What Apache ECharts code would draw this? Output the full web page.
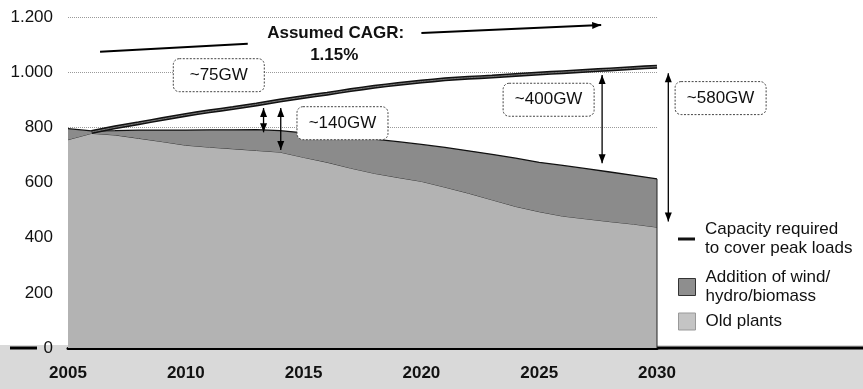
<!DOCTYPE html>
<html><head><meta charset="utf-8">
<script src="https://cdn.jsdelivr.net/npm/echarts@6/dist/echarts.min.js"></script>
<style>html,body{margin:0;padding:0;background:#fff}#c{width:863px;height:389px}</style>
</head><body><div id="c"></div>
<script>
const FONT = '"Liberation Sans", Arial, sans-serif';
const years = ['2005','2006','2007','2008','2009','2010','2011','2012','2013','2014','2015','2016','2017','2018','2019','2020','2021','2022','2023','2024','2025','2026','2027','2028','2029','2030'];
const oldPlants = [755,778,772,760,748,735,728,722,716,710,691,673,652,633,618,604,583,561,537,513,494,478,468,458,449,438];
const additions = [40,9,16,30,42,55,63,69,76,78,89,99,113,124,130,134,144,154,165,175,179,184,182,180,177,175];
const peakLoad = [null,783,800,815,830,845,858,870,883,897,910,922,935,947,957,966,974,980,984,990,995,1000,1005,1010,1015,1020];
const yTickLabels = ['0','200','400','600','800','1.000','1.200'];
const seriesNames = ['Capacity required\nto cover peak loads','Addition of wind/\nhydro/biomass','Old plants'];
// annotations in data coordinates: [year, top value, bottom value]
const gapArrows = [[2013.3,870,782],[2014.03,870,718],[2027.67,990,670],[2030.48,996,459]];
const gapBoxes = [['~75GW',2011.4,989],['~140GW',2016.65,815],['~400GW',2025.4,900],['~580GW',2032.7,906]];
const cagrLine = [[2006.36,1074],[2012.63,1103]];
const cagrArrow = [[2020.0,1142],[2027.63,1171]];
const cagrTexts = [['Assumed CAGR:',2016.36,1142],['1.15%',2016.3,1062]];

const legendBase = {orient:'vertical',left:673,itemWidth:17,itemHeight:17,
  textStyle:{fontFamily:FONT,fontSize:17,lineHeight:19,color:'#111',padding:[0,0,0,5]}};
const chart = echarts.init(document.getElementById('c'));
chart.setOption({
  animation:false,
  backgroundColor:'transparent',
  grid:{left:68,right:206,top:17,bottom:41},
  xAxis:{type:'category',data:years,boundaryGap:false,
    axisLine:{show:true,onZero:false,lineStyle:{color:'#000',width:3}},
    axisTick:{show:false},splitLine:{show:false},
    axisLabel:{fontFamily:FONT,fontSize:17,fontWeight:'bold',color:'#111',margin:17,
      interval:(i)=>i%5===0}},
  yAxis:{type:'value',min:0,max:1200,interval:200,
    axisLine:{show:false},axisTick:{show:false},
    splitLine:{lineStyle:{type:'dotted',color:'#9a9a9a',width:1}},
    axisLabel:{fontFamily:FONT,fontSize:17,color:'#111',margin:15,formatter:v=>yTickLabels[Math.round(v/200)]}},
  legend:[
    Object.assign({top:215,data:[{name:seriesNames[0],icon:'path://M0,0H17V3H0Z',itemStyle:{color:'#111'}}]},legendBase),
    Object.assign({top:263,data:[{name:seriesNames[1],icon:'rect',itemStyle:{color:'#8e8e8e',borderColor:'#333',borderWidth:1}}]},legendBase),
    Object.assign({top:307,data:[{name:seriesNames[2],icon:'rect',itemStyle:{color:'#c4c4c4',borderColor:'#999',borderWidth:1}}]},legendBase)
  ],
  series:[
    {name:seriesNames[2],type:'line',stack:'cap',symbol:'none',data:oldPlants,
      lineStyle:{color:'#333',width:1},areaStyle:{color:'#b3b3b3',opacity:1},itemStyle:{color:'#b3b3b3'},z:2},
    {name:seriesNames[1],type:'line',stack:'cap',symbol:'none',data:additions,
      lineStyle:{color:'#111',width:1.3},areaStyle:{color:'#8b8b8b',opacity:1},itemStyle:{color:'#8b8b8b'},z:3},
    {name:seriesNames[0],type:'line',symbol:'none',data:peakLoad,smooth:0.2,
      lineStyle:{color:'#111',width:4},itemStyle:{color:'#111'},z:5},
    {name:'_core',type:'line',symbol:'none',data:peakLoad,smooth:0.2,
      lineStyle:{color:'#7a7a7a',width:1},itemStyle:{color:'#7a7a7a'},z:6}
  ]
});

const first = chart.convertToPixel({xAxisIndex:0,yAxisIndex:0},[0,0]);
const lastPx = chart.convertToPixel({xAxisIndex:0,yAxisIndex:0},[years.length-1,0]);
const step = (lastPx[0]-first[0])/(years.length-1);
const y0 = +years[0];
const P = (yr,v)=>{ const p = chart.convertToPixel({xAxisIndex:0,yAxisIndex:0},[0,v]); return [first[0]+(yr-y0)*step, p[1]]; };
const g = [];
const zero = lastPx;
g.push({type:'rect',z:-10,shape:{x:0,y:zero[1]-3,width:863,height:389-zero[1]+3},style:{fill:'#d9d9d9'}});
g.push({type:'line',z:10,shape:{x1:zero[0],y1:zero[1],x2:863,y2:zero[1]},style:{stroke:'#000',lineWidth:3}});
g.push({type:'line',z:10,shape:{x1:10,y1:zero[1],x2:37,y2:zero[1]},style:{stroke:'#000',lineWidth:3}});
const li = years.length-1;
const e2 = P(+years[li],oldPlants[li]+additions[li]);
g.push({type:'line',z:10,shape:{x1:zero[0],y1:zero[1],x2:e2[0],y2:e2[1]},style:{stroke:'#222',lineWidth:1}});

function head(tip, from){
  const dx=tip[0]-from[0], dy=tip[1]-from[1], L=Math.hypot(dx,dy);
  const ux=dx/L, uy=dy/L, bx=tip[0]-ux*9, by=tip[1]-uy*9, px=-uy*3.5, py=ux*3.5;
  return {type:'polygon',z:20,shape:{points:[tip,[bx+px,by+py],[bx-px,by-py]]},style:{fill:'#000'}};
}
function arrow(a,b,hs,he,w){
  g.push({type:'line',z:20,shape:{x1:a[0],y1:a[1],x2:b[0],y2:b[1]},style:{stroke:'#000',lineWidth:w||1.3}});
  if(hs) g.push(head(a,b));
  if(he) g.push(head(b,a));
}
gapArrows.forEach(([x,t,b])=>arrow(P(x,t),P(x,b),true,true,1.3));
arrow(P(...cagrLine[0]),P(...cagrLine[1]),false,false,2);
arrow(P(...cagrArrow[0]),P(...cagrArrow[1]),false,true,2);
gapBoxes.forEach(([t,x,y])=>{
  const c=P(x,y), w=91, h=33;
  g.push({type:'rect',z:25,shape:{x:c[0]-w/2,y:c[1]-h/2,width:w,height:h,r:6},style:{fill:'#fff',stroke:'#444',lineWidth:1,lineDash:[2,1.5]}});
  g.push({type:'text',z:26,style:{text:t,x:c[0],y:c[1],align:'center',verticalAlign:'middle',fontFamily:FONT,fontSize:17,fill:'#111'}});
});
cagrTexts.forEach(([t,x,y])=>{
  const c=P(x,y);
  g.push({type:'text',z:26,style:{text:t,x:c[0],y:c[1],align:'center',verticalAlign:'middle',fontFamily:FONT,fontSize:17,fontWeight:'bold',fill:'#111'}});
});
chart.setOption({graphic:{elements:g}});
</script></body></html>
